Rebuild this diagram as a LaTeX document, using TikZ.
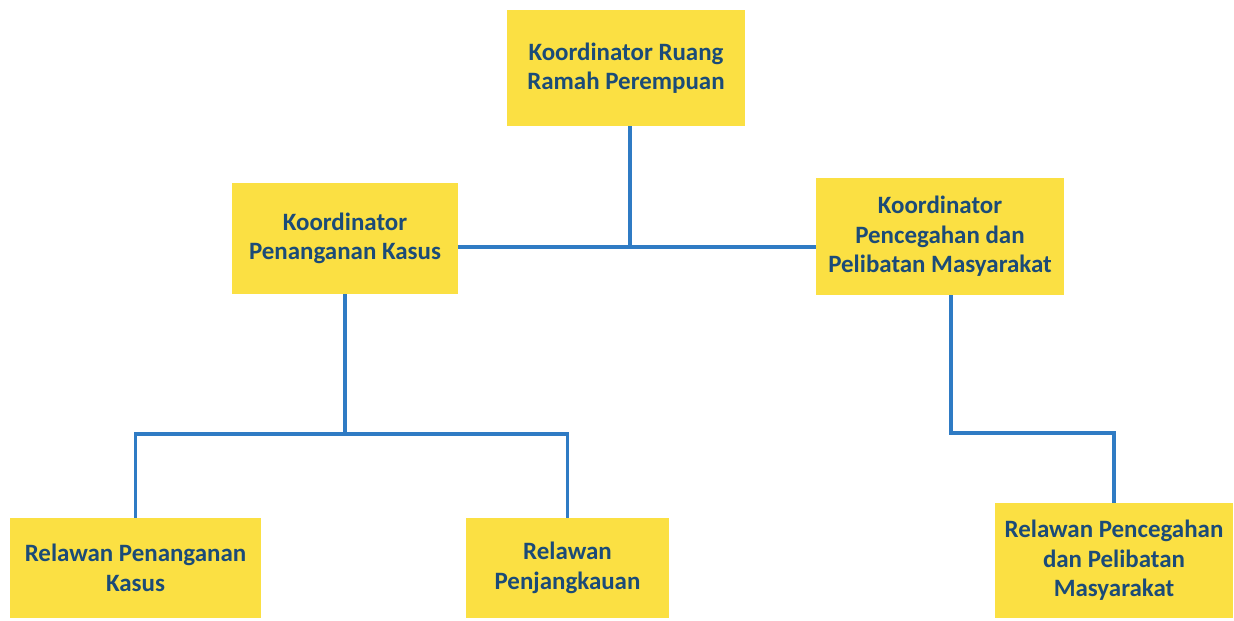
\documentclass[tikz,border=0pt]{standalone}
\usepackage{fontspec}
\setmainfont{Carlito}
\usetikzlibrary{positioning,calc}
\definecolor{boxfill}{HTML}{FBE043}
\definecolor{boxtext}{HTML}{1B4B78}
\definecolor{wire}{HTML}{2F7BC4}

\begin{document}
\begin{tikzpicture}[
    x=0.02cm, y=-0.02cm,
    box/.style={rectangle, fill=boxfill, align=center, inner sep=2pt,
                text=boxtext, font=\fontsize{14.2}{16.8}\selectfont\bfseries},
    wire/.style={draw=wire, line width=1.8pt},
  ]
    \useasboundingbox (0,0) rectangle (1234,620);
    \node[box, minimum width=4.76cm, minimum height=2.32cm] (top) at (626,68) {Koordinator Ruang\\Ramah Perempuan};
    \node[box, minimum width=4.52cm, minimum height=2.22cm] (kasus) at (345,238.5) {Koordinator\\Penanganan Kasus};
    \node[box, minimum width=4.96cm, minimum height=2.34cm] (cegah) at (940,236.5) {Koordinator\\Pencegahan dan\\Pelibatan Masyarakat};
    \node[box, minimum width=5.02cm, minimum height=2.00cm] (relkasus) at (135.5,568) {Relawan Penanganan\\Kasus};
    \node[box, minimum width=4.06cm, minimum height=2.00cm] (reljangkau) at (567.5,568) {Relawan\\Penjangkauan};
    \node[box, minimum width=4.76cm, minimum height=2.30cm] (relcegah) at (1114,560.5) {Relawan Pencegahan\\dan Pelibatan\\Masyarakat};

    \coordinate (hubtop) at (630,247);
    \coordinate (hubkasus) at (345,434);
    \coordinate (hubcegah) at (951,433);

    \draw[wire] (top.south -| hubtop) -- (hubtop);
    \draw[wire] (kasus.east |- hubtop) -- (cegah.west |- hubtop);
    \draw[wire] (kasus.south) -- (hubkasus);
    \draw[wire] (relkasus.north) |- (reljangkau.north |- hubkasus) -- (reljangkau.north);
    \draw[wire] (cegah.south -| hubcegah) -- (hubcegah) -| (relcegah.north);
  \end{tikzpicture}
\end{document}
